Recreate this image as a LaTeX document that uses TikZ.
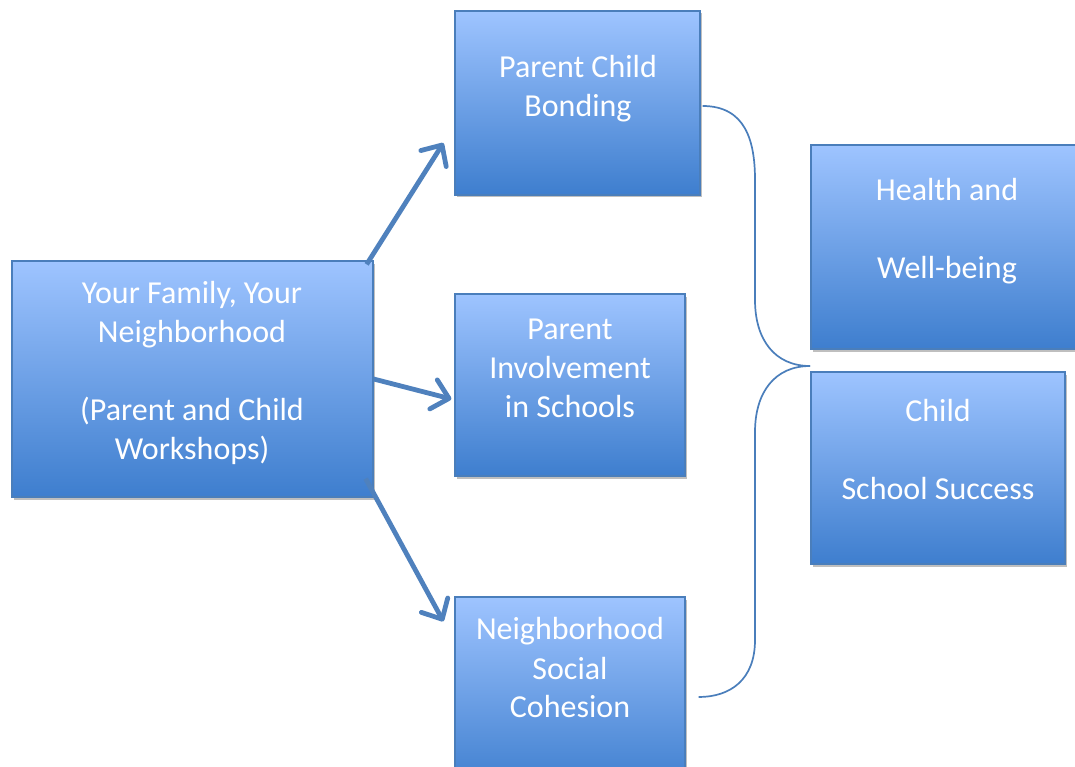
\documentclass[tikz,border=0pt]{standalone}
\usepackage{fontspec}
\setmainfont{Carlito}
\usetikzlibrary{shadows,arrows.meta,calc}
\definecolor{boxtop}{RGB}{158,196,255}
\definecolor{boxbot}{RGB}{62,126,206}
\definecolor{boxline}{RGB}{74,126,187}
\definecolor{arrowcol}{RGB}{79,129,189}
\begin{document}
\begin{tikzpicture}[x=1pt,y=-1pt,
  box/.style={draw=boxline, line width=1.3pt, top color=boxtop, bottom color=boxbot,
    inner sep=0pt,
    drop shadow={shadow xshift=1.5pt, shadow yshift=-2.5pt, opacity=0.25, fill=black}},
  txt/.style={text=white, align=center, inner sep=0pt, font=\fontsize{32}{39}\selectfont},
  flow/.style={draw=arrowcol, line width=4.8pt, -{Straight Barb[length=16pt,width=30pt,line cap=round,line join=round]}},
  brace/.style={draw=boxline, line width=1.7pt}]
\useasboundingbox (0,0) rectangle (1075,767);
% boxes
\node[box, minimum width=361pt, minimum height=236pt] (A) at (192.5,379) {};
\node[box, minimum width=245pt, minimum height=184pt] (PCB) at (577.5,103) {};
\node[box, minimum width=230pt, minimum height=182pt] (PIS) at (570,385) {};
\node[box, minimum width=230pt, minimum height=193pt] (NSC) at (570,693.5) {};
\node[box, minimum width=274pt, minimum height=204pt] (HW) at (948,247) {};
\node[box, minimum width=254pt, minimum height=192pt] (CS) at (938,468) {};
% texts
\node[txt] (tA) at (192,373) {Your Family, Your\\Neighborhood\\[39pt](Parent and Child\\Workshops)};
\node[txt] (tPCB) at (578,88.5) {Parent Child\\Bonding};
\node[txt] (tPIS) at (570,368) {Parent\\Involvement\\in Schools};
\node[txt] (tNSC) at (570,668) {Neighborhood\\Social\\Cohesion};
\node[txt] (tHW) at (947,231.5) {Health and\\[39pt]Well-being};
\node[txt] (tCS) at (938,449.5) {Child\\[39pt]School Success};
% arrows
\draw[flow] ($(A.north east)+(-7,4)$) -- ($(PCB.west)+(-11,40)$);
\draw[flow] (A.east) -- ($(PIS.west)+(-3,14)$);
\draw[flow] ($(A.south east)+(-8,-19)$) -- ($(NSC.north west)+(-11,25)$);
% brace
\coordinate (tip) at (810,366);
\draw[brace] ($(PCB.east)+(2,3)$) .. controls (745,106) and (755,140) .. (755,180)
  -- (755,300) .. controls (755,340) and (775,366) .. (tip);
\draw[brace] (tip) .. controls (775,366) and (755,392) .. (755,432)
  -- (755,640) .. controls (755,680) and (730,697) .. ($(NSC.east)+(13,3.5)$);
\end{tikzpicture}
\end{document}
